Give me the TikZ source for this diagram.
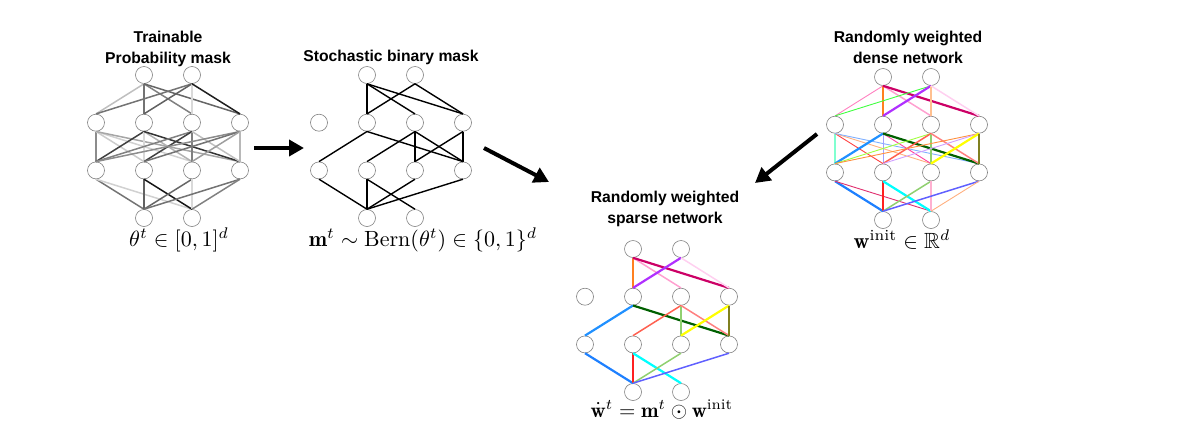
\documentclass[tikz,border=0pt]{standalone}
\usepackage{amsmath,amssymb}
\usepackage{graphicx}
\usepackage{fontspec}
\newfontfamily\titlefont{Liberation Sans}
\usetikzlibrary{arrows.meta}

\tikzset{
  neuron/.style={circle,draw=black!50,line width=0.6pt,minimum size=17pt,inner sep=0pt,fill=white},
  ttl/.style={font=\titlefont\bfseries\fontsize{15.7}{20}\selectfont,anchor=base,inner sep=0pt},
  mathlbl/.style={anchor=base,inner sep=0pt},
  bigarrow/.style={line width=4pt,-{Triangle[length=15pt,width=16pt]}},
  bin/.style={line width=1.4pt,black},
  ewa/.style={line width=0.9pt},
  ewb/.style={line width=1.5pt},
  ewc/.style={line width=2.2pt},
  gw/.style={line width=1.5pt}
}
\newcommand\lblmath[2][2.2]{\scalebox{#1}{$#2$}}

\newcommand\mknet[3]{%
  \node[neuron] (#1-t1) at ({#2+48},#3) {};
  \node[neuron] (#1-t2) at ({#2+96},#3) {};
  \foreach \k in {1,2,3,4}{
    \node[neuron] (#1-a\k) at ({#2+48*(\k-1)},{#3+47.7}) {};
    \node[neuron] (#1-b\k) at ({#2+48*(\k-1)},{#3+95.4}) {};
  }
  \node[neuron] (#1-u1) at ({#2+48},{#3+143}) {};
  \node[neuron] (#1-u2) at ({#2+96},{#3+143}) {};
}
\newcommand\ed[3]{\draw[#1] (#2.south) -- (#3.north);}

\begin{document}
\begin{tikzpicture}[x=1pt,y=-1pt]
\useasboundingbox (0,0) rectangle (1180,440);

% ---------- network 1: trainable probability mask ----------
\mknet{p}{96}{75}
\ed{gw,draw=black!25}{p-t1}{p-a1}
\ed{gw,draw=black!55}{p-t1}{p-a2}
\ed{gw,draw=black!50}{p-t1}{p-a3}
\ed{gw,draw=black!60}{p-t1}{p-a4}
\ed{gw,draw=black!55}{p-t2}{p-a1}
\ed{gw,draw=black!62}{p-t2}{p-a2}
\ed{gw,draw=black!15}{p-t2}{p-a3}
\ed{gw,draw=black!88}{p-t2}{p-a4}
\ed{gw,draw=black!45}{p-a1}{p-b1}
\ed{gw,draw=black!20}{p-a1}{p-b2}
\ed{gw,draw=black!18}{p-a1}{p-b3}
\ed{gw,draw=black!35}{p-a1}{p-b4}
\ed{gw,draw=black!75}{p-a2}{p-b1}
\ed{gw,draw=black!15}{p-a2}{p-b2}
\ed{gw,draw=black!30}{p-a2}{p-b3}
\ed{gw,draw=black!80}{p-a2}{p-b4}
\ed{gw,draw=black!50}{p-a3}{p-b1}
\ed{gw,draw=black!75}{p-a3}{p-b2}
\ed{gw,draw=black!50}{p-a3}{p-b3}
\ed{gw,draw=black!25}{p-a3}{p-b4}
\ed{gw,draw=black!45}{p-a4}{p-b1}
\ed{gw,draw=black!55}{p-a4}{p-b2}
\ed{gw,draw=black!38}{p-a4}{p-b3}
\ed{gw,draw=black!28}{p-a4}{p-b4}
\ed{gw,draw=black!55}{p-b1}{p-u1}
\ed{gw,draw=black!18}{p-b1}{p-u2}
\ed{gw,draw=black!62}{p-b2}{p-u1}
\ed{gw,draw=black!92}{p-b2}{p-u2}
\ed{gw,draw=black!60}{p-b3}{p-u1}
\ed{gw,draw=black!15}{p-b3}{p-u2}
\ed{gw,draw=black!55}{p-b4}{p-u1}
\ed{gw,draw=black!50}{p-b4}{p-u2}

\node[ttl] (p-ttl1) at (168,42) {Trainable};
\node[ttl] (p-ttl2) at (168,63) {Probability mask};
\node[mathlbl] (p-lbl) at (179,246) {\lblmath{\theta^t \in [0,1]^d}};

% ---------- network 2: stochastic binary mask ----------
\mknet{m}{319}{75}
\ed{bin}{m-t1}{m-a2}
\ed{bin}{m-t1}{m-a3}
\ed{bin}{m-t1}{m-a4}
\ed{bin}{m-t2}{m-a2}
\ed{bin}{m-t2}{m-a4}
\ed{bin}{m-a2}{m-b1}
\ed{bin}{m-a2}{m-b4}
\ed{bin}{m-a3}{m-b2}
\ed{bin}{m-a3}{m-b3}
\ed{bin}{m-a3}{m-b4}
\ed{bin}{m-a4}{m-b3}
\ed{bin}{m-a4}{m-b4}
\ed{bin}{m-b1}{m-u1}
\ed{bin}{m-b2}{m-u1}
\ed{bin}{m-b2}{m-u2}
\ed{bin}{m-b3}{m-u1}
\ed{bin}{m-b4}{m-u1}

\node[ttl] (m-ttl) at (391,61) {Stochastic binary mask};
\node[mathlbl] (m-lbl) at (423,246) {\lblmath{\mathbf{m}^t \sim \mathrm{Bern}(\theta^t) \in \{0,1\}^d}};

% ---------- network 3: randomly weighted dense network ----------
\mknet{d}{835}{77}
\ed{ewa,draw={rgb,255:red,255;green,128;blue,192}}{d-t1}{d-a1}
\ed{ewc,draw={rgb,255:red,255;green,128;blue,32}}{d-t1}{d-a2}
\ed{ewb,draw={rgb,255:red,255;green,160;blue,208}}{d-t1}{d-a3}
\ed{ewc,draw={rgb,255:red,204;green,0;blue,102}}{d-t1}{d-a4}
\ed{ewa,draw={rgb,255:red,64;green,255;blue,64}}{d-t2}{d-a1}
\ed{ewc,draw={rgb,255:red,176;green,48;blue,255}}{d-t2}{d-a2}
\ed{ewb,draw={rgb,255:red,255;green,192;blue,144}}{d-t2}{d-a3}
\ed{ewb,draw={rgb,255:red,255;green,208;blue,240}}{d-t2}{d-a4}
\ed{ewb,draw={rgb,255:red,128;green,255;blue,208}}{d-a1}{d-b1}
\ed{ewa,draw={rgb,255:red,255;green,64;blue,64}}{d-a1}{d-b2}
\ed{ewa,draw={rgb,255:red,255;green,176;blue,128}}{d-a1}{d-b3}
\ed{ewa,draw={rgb,255:red,128;green,176;blue,255}}{d-a1}{d-b4}
\ed{ewc,draw={rgb,255:red,32;green,144;blue,255}}{d-a2}{d-b1}
\ed{ewa,draw={rgb,255:red,160;green,160;blue,255}}{d-a2}{d-b2}
\ed{ewa,draw={rgb,255:red,255;green,64;blue,160}}{d-a2}{d-b3}
\ed{ewc,draw={rgb,255:red,0;green,96;blue,0}}{d-a2}{d-b4}
\ed{ewa,draw={rgb,255:red,160;green,255;blue,64}}{d-a3}{d-b1}
\ed{ewb,draw={rgb,255:red,255;green,96;blue,80}}{d-a3}{d-b2}
\ed{ewb,draw={rgb,255:red,144;green,208;blue,112}}{d-a3}{d-b3}
\ed{ewb,draw={rgb,255:red,255;green,128;blue,128}}{d-a3}{d-b4}
\ed{ewa,draw={rgb,255:red,255;green,144;blue,64}}{d-a4}{d-b1}
\ed{ewa,draw={rgb,255:red,208;green,160;blue,255}}{d-a4}{d-b2}
\ed{ewc,draw={rgb,255:red,255;green,255;blue,0}}{d-a4}{d-b3}
\ed{ewc,draw={rgb,255:red,128;green,128;blue,32}}{d-a4}{d-b4}
\ed{ewc,draw={rgb,255:red,30;green,128;blue,255}}{d-b1}{d-u1}
\ed{ewa,draw={rgb,255:red,224;green,48;blue,112}}{d-b1}{d-u2}
\ed{ewc,draw={rgb,255:red,255;green,32;blue,32}}{d-b2}{d-u1}
\ed{ewc,draw={rgb,255:red,0;green,255;blue,255}}{d-b2}{d-u2}
\ed{ewb,draw={rgb,255:red,144;green,208;blue,112}}{d-b3}{d-u1}
\ed{ewb,draw={rgb,255:red,255;green,176;blue,208}}{d-b3}{d-u2}
\ed{ewb,draw={rgb,255:red,96;green,96;blue,255}}{d-b4}{d-u1}
\ed{ewa,draw={rgb,255:red,255;green,176;blue,128}}{d-b4}{d-u2}

\node[ttl] (d-ttl1) at (908,42) {Randomly weighted};
\node[ttl] (d-ttl2) at (908,63) {dense network};
\node[mathlbl] (d-lbl) at (902,248) {\lblmath{\mathbf{w}^{\mathrm{init}} \in \mathbb{R}^d}};

% ---------- network 4: randomly weighted sparse network ----------
\mknet{s}{585}{249}
\ed{ewc,draw={rgb,255:red,255;green,128;blue,32}}{s-t1}{s-a2}
\ed{ewb,draw={rgb,255:red,255;green,160;blue,208}}{s-t1}{s-a3}
\ed{ewc,draw={rgb,255:red,204;green,0;blue,102}}{s-t1}{s-a4}
\ed{ewc,draw={rgb,255:red,176;green,48;blue,255}}{s-t2}{s-a2}
\ed{ewb,draw={rgb,255:red,255;green,208;blue,240}}{s-t2}{s-a4}
\ed{ewc,draw={rgb,255:red,32;green,144;blue,255}}{s-a2}{s-b1}
\ed{ewc,draw={rgb,255:red,0;green,96;blue,0}}{s-a2}{s-b4}
\ed{ewb,draw={rgb,255:red,255;green,96;blue,80}}{s-a3}{s-b2}
\ed{ewb,draw={rgb,255:red,144;green,208;blue,112}}{s-a3}{s-b3}
\ed{ewb,draw={rgb,255:red,255;green,128;blue,128}}{s-a3}{s-b4}
\ed{ewc,draw={rgb,255:red,255;green,255;blue,0}}{s-a4}{s-b3}
\ed{ewc,draw={rgb,255:red,128;green,128;blue,32}}{s-a4}{s-b4}
\ed{ewc,draw={rgb,255:red,30;green,128;blue,255}}{s-b1}{s-u1}
\ed{ewc,draw={rgb,255:red,255;green,32;blue,32}}{s-b2}{s-u1}
\ed{ewc,draw={rgb,255:red,0;green,255;blue,255}}{s-b2}{s-u2}
\ed{ewb,draw={rgb,255:red,144;green,208;blue,112}}{s-b3}{s-u1}
\ed{ewb,draw={rgb,255:red,96;green,96;blue,255}}{s-b4}{s-u1}

\node[ttl] (s-ttl1) at (665,202) {Randomly weighted};
\node[ttl] (s-ttl2) at (665,223) {sparse network};
\node[mathlbl] (s-lbl) at (662,417) {\lblmath[2.1]{\dot{\mathbf{w}}^t = \mathbf{m}^t \odot \mathbf{w}^{\mathrm{init}}}};

% ---------- arrows ----------
\coordinate (r1s) at (254,148); \coordinate (r1e) at (304,148);
\coordinate (r2s) at (484,148); \coordinate (r2e) at (549,182);
\coordinate (r3s) at (817,134); \coordinate (r3e) at (755,183);
\draw[bigarrow] (r1s) -- (r1e);
\draw[bigarrow] (r2s) -- (r2e);
\draw[bigarrow] (r3s) -- (r3e);
\end{tikzpicture}
\end{document}
